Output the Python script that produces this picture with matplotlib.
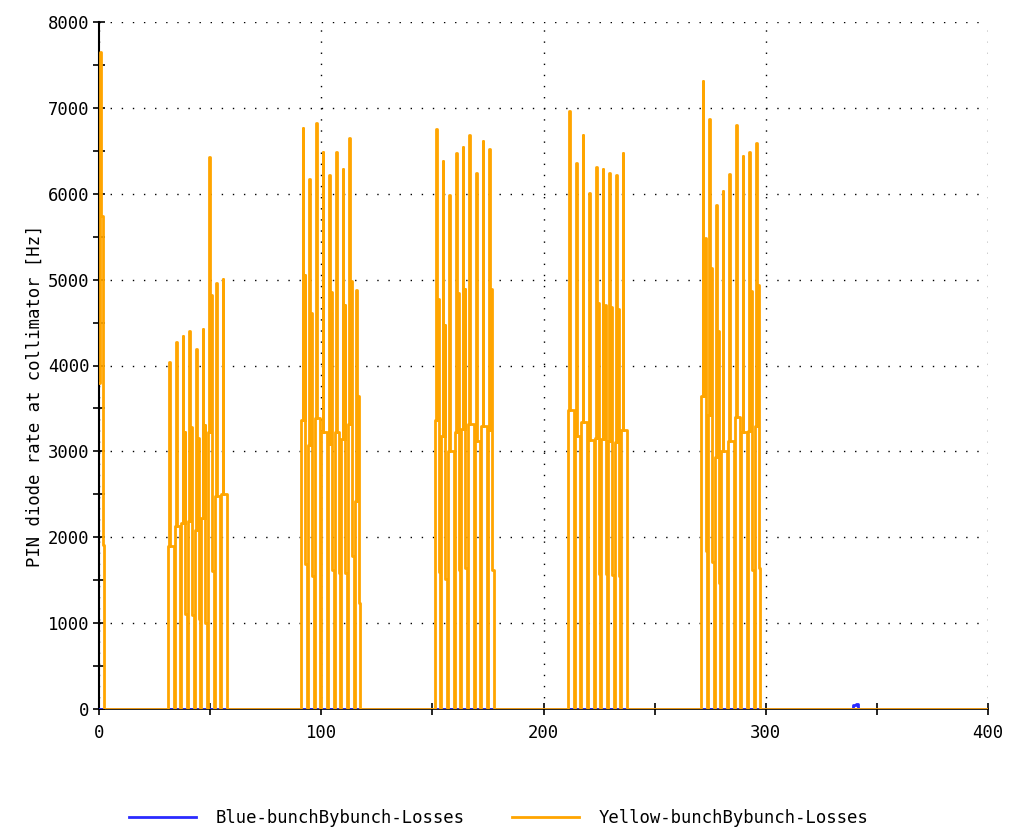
import matplotlib
matplotlib.use("Agg")
import matplotlib.pyplot as plt
from matplotlib.ticker import MultipleLocator

# bunch-by-bunch PIN diode rates [Hz]
# each bunch: plateau (mid), tall spike (peak), top and bottom of the thick band (hi, lo)
lead_buckets = [0, 0.4, 1.0, 1.6, 2.3]
lead_rates = [3800, 7650, 5740, 1910, 0]

train_starts = [31, 91, 151, 211, 271]

peak = [
    [4040, 4270, 4340, 4400, 4190, 4430, 6430, 4960, 5010],
    [6760, 6170, 6820, 6490, 6220, 6490, 6290, 6650, 4880],
    [6750, 6380, 5980, 6470, 6540, 6680, 6240, 6610, 6520],
    [6960, 6360, 6680, 6010, 6310, 6290, 6240, 6220, 6470],
    [7310, 6870, 5870, 6030, 6230, 6800, 6440, 6490, 6590],
]
mid = [
    [1900, 2130, 2170, 2190, 2090, 2220, 3230, 2480, 2500],
    [3370, 3070, 3390, 3230, 3090, 3230, 3140, 3320, 2420],
    [3370, 3180, 3000, 3230, 3260, 3320, 3120, 3300, 3250],
    [3480, 3180, 3340, 3130, 3150, 3140, 3120, 3110, 3250],
    [3640, 3420, 2940, 3010, 3120, 3400, 3220, 3240, 3290],
]
hi = [
    [1900, 2130, 3230, 3280, 3160, 3310, 4820, 2480, 2500],
    [5050, 4610, 3390, 3230, 4860, 3230, 4700, 4980, 3650],
    [4770, 4470, 3000, 4840, 4890, 3320, 3120, 3300, 4890],
    [3480, 3180, 3340, 3130, 4730, 4710, 4680, 4660, 3250],
    [5480, 5140, 4400, 3010, 3120, 3400, 3220, 4870, 4940],
]
lo = [
    [1900, 2130, 1110, 1090, 1050, 1000, 1610, 2480, 2500],
    [1690, 1550, 3390, 3230, 1620, 1580, 1580, 1780, 1230],
    [1600, 1510, 3000, 1620, 1640, 3320, 3120, 3300, 1620],
    [3480, 3180, 3340, 3130, 1570, 1570, 1560, 1550, 3250],
    [1840, 1710, 1470, 3010, 3120, 3400, 3220, 1620, 1640],
]

blue_buckets = [0, 338.6, 339.2, 340.8, 341.4, 400]
blue_rates = [0, 0, 45, 60, 0, 0]

# build the yellow step trace
xs = list(lead_buckets)
ys = list(lead_rates)
offs = [0.0, 0.6, 0.9, 1.5, 1.9, 2.6]
for t, start in enumerate(train_starts):
    for i in range(len(peak[t])):
        b = start + 3 * i
        vals = [mid[t][i], peak[t][i], mid[t][i], hi[t][i], lo[t][i], 0]
        for o, v in zip(offs, vals):
            xs.append(b + o)
            ys.append(v)
xs.append(400)
ys.append(0)

plt.rcParams['font.family'] = ['DejaVu Sans Mono']

fig = plt.figure(figsize=(10.22, 8.32), dpi=100)
ax = fig.add_axes([99 / 1022, 123 / 832, 889 / 1022, 687 / 832])

l1, = ax.plot(blue_buckets, blue_rates, drawstyle='steps-post', color='#2a2aff', lw=2.0,
              label='Blue-bunchBybunch-Losses', zorder=3)
l2, = ax.plot(xs, ys, drawstyle='steps-post', color='#ffa500', lw=2.0,
              label='Yellow-bunchBybunch-Losses', zorder=3)

ax.set_xlim(0, 400)
ax.set_ylim(0, 8000)
ax.xaxis.set_major_locator(MultipleLocator(100))
ax.xaxis.set_minor_locator(MultipleLocator(50))
ax.yaxis.set_major_locator(MultipleLocator(1000))
ax.yaxis.set_minor_locator(MultipleLocator(500))
ax.tick_params(which='both', direction='inout', length=8, width=1.2, labelsize=12.4)
ax.tick_params(axis='x', pad=7)
ax.tick_params(axis='y', pad=3)
ax.grid(True, which='major', color='black', linestyle=(0, (1, 7)), lw=1.0)

for s in ['top', 'right']:
    ax.spines[s].set_visible(False)
ax.spines['left'].set_linewidth(1.5)
ax.spines['bottom'].set_linewidth(1.2)

ax.set_ylabel('PIN diode rate at collimator [Hz]', fontsize=12.4)
ax.yaxis.set_label_coords(-0.062, 0.456)

fig.legend(handles=[l1, l2], loc='center', bbox_to_anchor=(0.488, 14 / 832), ncol=2,
           frameon=False, fontsize=12.4, handlelength=3.9, handletextpad=1.15,
           columnspacing=2.7)

fig.savefig('out.png', dpi=100)
